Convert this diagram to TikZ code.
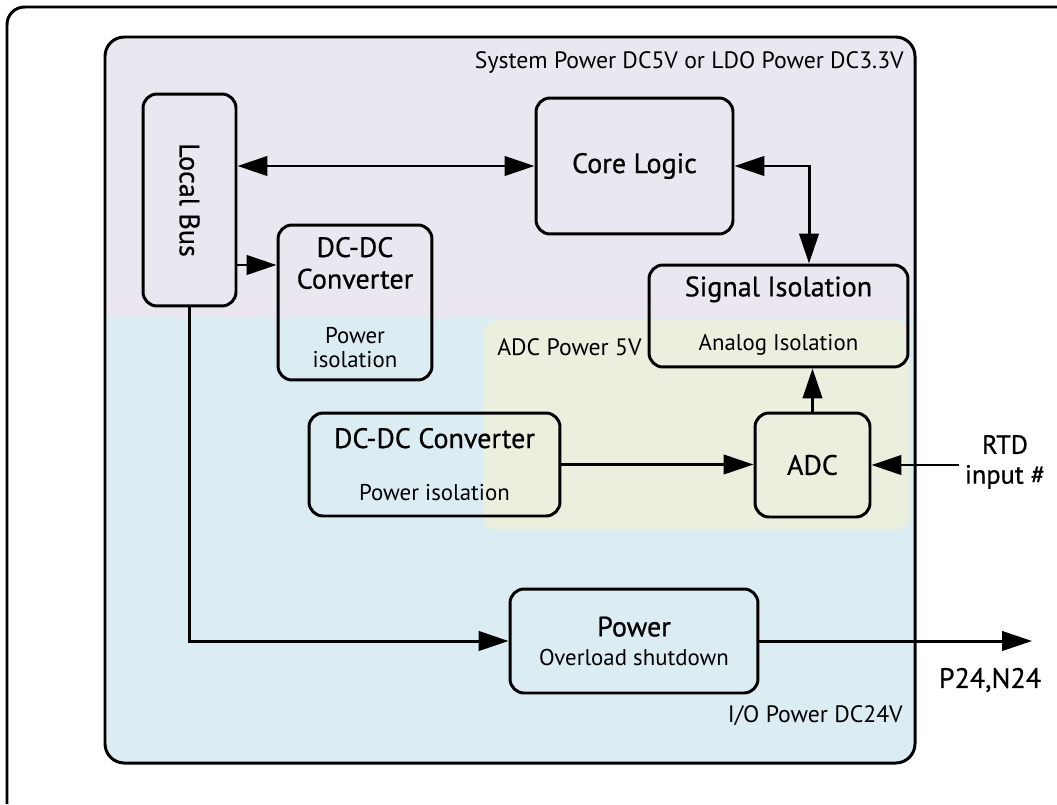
\documentclass[tikz,border=0pt]{standalone}
\usepackage{fontspec}
\usepackage{graphicx}
\setmainfont{PT Sans}
\newfontfamily\ttlfont{PT Sans}[FakeBold=0.6]
\usetikzlibrary{arrows.meta}

\definecolor{syscol}{RGB}{235,231,240}
\definecolor{iocol}{RGB}{219,237,243}
\definecolor{adccol}{RGB}{235,239,222}

\tikzset{
  blk/.style={draw, line width=1.7pt, rounded corners=8pt, align=center, inner sep=0pt,
    font=\ttlfont\fontsize{16pt}{18pt}\selectfont},
  link/.style={line width=1.7pt, -{Triangle[length=17pt,width=11pt]}},
  dlink/.style={line width=1.7pt, {Triangle[length=17pt,width=11pt]}-{Triangle[length=17pt,width=11pt]}},
  zone/.style={inner sep=0pt, font=\fontsize{13.5pt}{16pt}\selectfont},
}
\newcommand{\subtxt}{\normalfont\fontsize{13pt}{15pt}\selectfont}

\begin{document}
\begin{tikzpicture}[x=0.02cm, y=-0.02cm]

\useasboundingbox (0,0) rectangle (1057,804);

% FRAME
\draw [line width=1.7pt, rounded corners=10pt] (7,804) |- (1057,7);

% POWER DOMAINS
\begin{scope}
\clip [rounded corners=11pt] (105,37) rectangle (915,763);
\fill [iocol] (105,37) rectangle (915,763);
\fill [syscol] (105,37) rectangle (915,317);
\end{scope}
\fill [adccol, rounded corners=8pt] (483,320) rectangle (909,530);
\draw [line width=1.7pt, rounded corners=11pt] (105,37) rectangle (915,763);

\node [zone, anchor=east] (sysp) at (904,62) {System Power DC5V or LDO Power DC3.3V};
\node [zone, anchor=west] (adcp) at (497,347) {ADC Power 5V};
\node [zone, anchor=east] (iop) at (903,716) {I/O Power DC24V};

% BLOCKS
\node [blk, minimum width=1.86cm, minimum height=4.24cm] (bus) at (189.5,200) {\rotatebox{-90}{Local Bus}};
\node [blk, minimum width=3.94cm, minimum height=2.72cm] (core) at (634.5,166) {Core Logic};
\node [blk, minimum width=3.08cm, minimum height=3.10cm] (dcA) at (355,302.5)
  {DC-DC\\Converter\\[13pt]\subtxt Power\\[-4pt]\subtxt isolation};
\node [blk, minimum width=5.18cm, minimum height=2.04cm] (sig) at (778.5,316)
  {Signal Isolation\\[13pt]\subtxt Analog Isolation};
\node [blk, minimum width=2.30cm, minimum height=2.08cm] (adc) at (812.5,465) {ADC};
\node [blk, minimum width=5.02cm, minimum height=2.06cm] (dcB) at (434.5,464.5)
  {DC-DC Converter\\[12pt]\subtxt Power isolation};
\node [blk, minimum width=4.96cm, minimum height=2.08cm] (pwr) at (634,641)
  {Power\\[-1.6pt]\subtxt Overload shutdown};

% TERMINALS
\node [align=center, inner sep=3pt, font=\ttlfont\fontsize{15pt}{17pt}\selectfont] (rtd) at (1005,462) {RTD\\input \#};
\node [inner sep=0pt, font=\ttlfont\fontsize{16pt}{18pt}\selectfont] (p24) at (990,680) {P24,N24};
\coordinate (out) at (1032,641);

% LINKS
\draw [dlink] (bus.east |- core.west) -- (core.west);
\draw [link] (bus.east |- 0,265) -- (dcA.west |- 0,265);
\draw [dlink] (core.east) -| (sig.north -| 809,0);
\draw [link] (adc.north) -- (adc.north |- sig.south);
\draw [link] (dcB.east) -- (dcB.east -| adc.west);
\draw [link] (rtd.west |- adc.east) -- (adc.east);
\draw [link] (bus.south) |- (pwr.west);
\draw [link] (pwr.east) -- (out);

\end{tikzpicture}
\end{document}
